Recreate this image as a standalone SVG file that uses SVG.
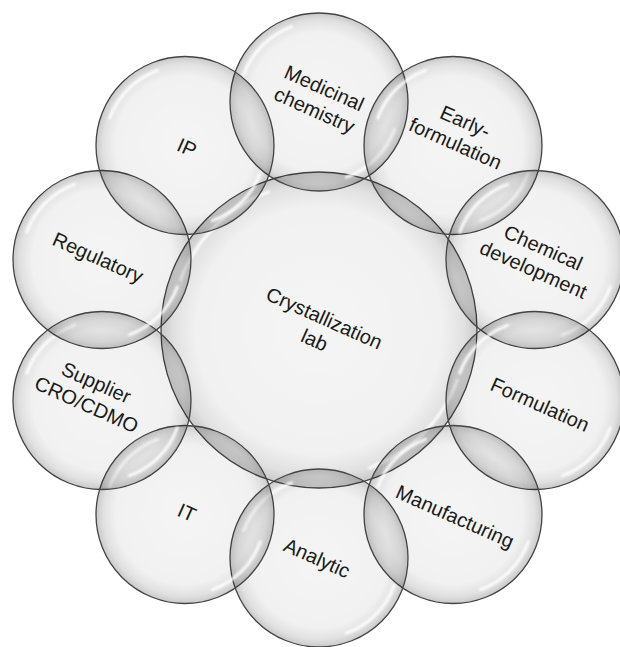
<svg xmlns="http://www.w3.org/2000/svg" xmlns:xlink="http://www.w3.org/1999/xlink" width="620" height="647" viewBox="0 0 620 647">
<style>
.bub{fill:url(#shade);stroke:#444444;stroke-width:1.3}
.hl{fill:none;stroke:#ffffff;stroke-width:3;stroke-linecap:round;opacity:0.9;filter:url(#soft)}
.lbl{font-family:"Liberation Sans",Arial,sans-serif;font-size:20px;fill:#1a1a1a;text-anchor:middle}
</style>
<defs>
<radialGradient id="shade" cx="0.5" cy="0.5" r="0.5">
<stop offset="0" stop-color="#000" stop-opacity="0.04"/>
<stop offset="0.78" stop-color="#000" stop-opacity="0.055"/>
<stop offset="0.92" stop-color="#000" stop-opacity="0.12"/>
<stop offset="1" stop-color="#000" stop-opacity="0.21"/>
</radialGradient>
<filter id="soft" x="-20%" y="-20%" width="140%" height="140%"><feGaussianBlur stdDeviation="1.1"/></filter>
<g id="hlS">
<path class="hl" d="M -75.2 -27.4 A 80 80 0 0 1 -27.4 -75.2"/>
<path class="hl" d="M 75.2 27.4 A 80 80 0 0 1 27.4 75.2"/>
</g>
</defs>
<rect width="620" height="647" fill="#ffffff"/>
<g id="connectors"/>
<g id="crystallization-lab" transform="translate(319 330)">
<circle class="bub" r="158"/>
<path class="hl" d="M -138.1 -50.3 A 147 147 0 0 1 -50.3 -138.1"/>
<path class="hl" d="M 138.1 50.3 A 147 147 0 0 1 50.3 138.1"/>
<text class="lbl" transform="rotate(24)"><tspan x="0" y="-6">Crystallization</tspan><tspan x="0" y="18">lab</tspan></text>
</g>
<g id="medicinal-chemistry" transform="translate(319 102)">
<circle class="bub" r="89"/><use xlink:href="#hlS"/>
<text class="lbl" transform="translate(0 -2) rotate(24)"><tspan x="0" y="-6">Medicinal</tspan><tspan x="0" y="18">chemistry</tspan></text>
</g>
<g id="early-formulation" transform="translate(453 145.5)">
<circle class="bub" r="89"/><use xlink:href="#hlS"/>
<text class="lbl" transform="translate(7 -12) rotate(24)"><tspan x="0" y="-6">Early-</tspan><tspan x="0" y="18">formulation</tspan></text>
</g>
<g id="chemical-development" transform="translate(535 259.5)">
<circle class="bub" r="89"/><use xlink:href="#hlS"/>
<text class="lbl" transform="translate(3 0) rotate(24)"><tspan x="0" y="-6">Chemical</tspan><tspan x="0" y="18">development</tspan></text>
</g>
<g id="formulation" transform="translate(535 400.5)">
<circle class="bub" r="89"/><use xlink:href="#hlS"/>
<text class="lbl" transform="translate(5 4) rotate(24)" y="7">Formulation</text>
</g>
<g id="manufacturing" transform="translate(453 514.5)">
<circle class="bub" r="89"/><use xlink:href="#hlS"/>
<text class="lbl" transform="translate(2 2) rotate(24)" y="7">Manufacturing</text>
</g>
<g id="analytic" transform="translate(319 558)">
<circle class="bub" r="89"/><use xlink:href="#hlS"/>
<text class="lbl" transform="translate(-2 0) rotate(24)" y="7">Analytic</text>
</g>
<g id="it" transform="translate(185 514.5)">
<circle class="bub" r="89"/><use xlink:href="#hlS"/>
<text class="lbl" transform="translate(2 -2) rotate(24)" y="7">IT</text>
</g>
<g id="supplier-cro-cdmo" transform="translate(102 400.5)">
<circle class="bub" r="89"/><use xlink:href="#hlS"/>
<text class="lbl" transform="translate(-11 -6) rotate(24)"><tspan x="0" y="-6">Supplier</tspan><tspan x="0" y="18">CRO/CDMO</tspan></text>
</g>
<g id="regulatory" transform="translate(102 259.5)">
<circle class="bub" r="89"/><use xlink:href="#hlS"/>
<text class="lbl" transform="translate(-4 -2) rotate(24)" y="7">Regulatory</text>
</g>
<g id="ip" transform="translate(185 145.5)">
<circle class="bub" r="89"/><use xlink:href="#hlS"/>
<text class="lbl" transform="translate(2 2) rotate(24)" y="7">IP</text>
</g>
</svg>
